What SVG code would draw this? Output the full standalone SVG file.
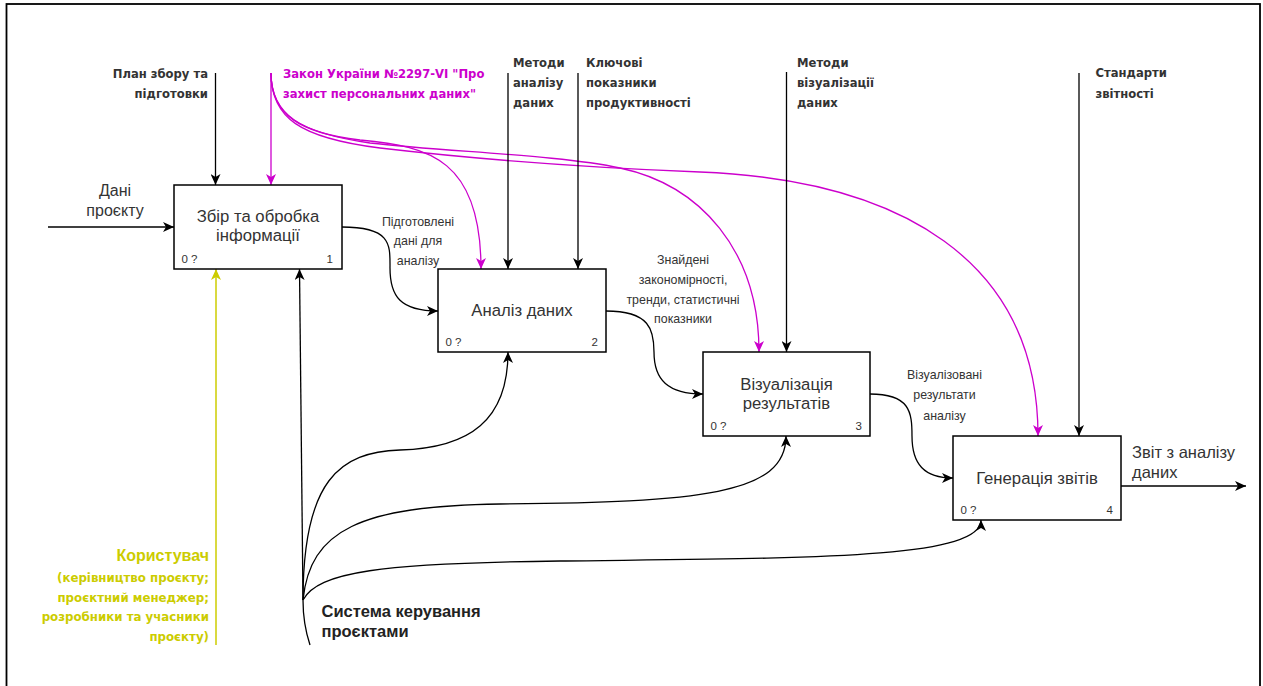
<svg xmlns="http://www.w3.org/2000/svg" width="1263" height="686" viewBox="0 0 1263 686">
<style>
.box{fill:#fff;stroke:#000;stroke-width:1.5}
.t{font-family:"Liberation Sans",Arial,sans-serif;fill:#333}
.title{font-size:16.7px;text-anchor:middle}
.small{font-size:11.5px}
.lbl{font-size:12.4px;text-anchor:middle}
.ctl{font-family:"DejaVu Sans",Verdana,sans-serif;font-weight:bold;font-size:11.6px;fill:#333}
.ys{font-size:11.8px}
.mag{fill:#CC00CC}
.yel{fill:#CCCC00}
.k{fill:none;stroke:#000;stroke-width:1.3}
.m{fill:none;stroke:#CC00CC;stroke-width:1.3}
.y{fill:none;stroke:#CCCC00;stroke-width:1.5}
</style>
<defs>
<marker id="ak" markerUnits="userSpaceOnUse" markerWidth="12" markerHeight="10" refX="11" refY="5" orient="auto"><path d="M0,0 L11,5 L0,10 L3,5 Z" fill="#000"/></marker>
<marker id="am" markerUnits="userSpaceOnUse" markerWidth="12" markerHeight="10" refX="11" refY="5" orient="auto"><path d="M0,0 L11,5 L0,10 L3,5 Z" fill="#CC00CC"/></marker>
<marker id="ay" markerUnits="userSpaceOnUse" markerWidth="12" markerHeight="10" refX="11" refY="5" orient="auto"><path d="M0,0 L11,5 L0,10 L3,5 Z" fill="#CCCC00"/></marker>
</defs>
<rect x="0" y="0" width="1263" height="686" fill="#fff"/>
<rect x="6.5" y="4" width="1253.5" height="800" fill="none" stroke="#000" stroke-width="1.8"/>

<g id="connectors">
<path class="k" d="M48,227 L174,227" marker-end="url(#ak)"/>
<path class="k" d="M215.5,73 L215.5,185" marker-end="url(#ak)"/>
<path class="m" d="M271,73 L271,185" marker-end="url(#am)"/>
<path class="m" d="M271,73 C271,115 300,133 360,140 C430,146 481,160 481,269" marker-end="url(#am)"/>
<path class="m" d="M271,73 C271,115 300,133 370,143 C450,152 560,155 620,168 C700,185 759,250 759,352" marker-end="url(#am)"/>
<path class="m" d="M271,73 C271,118 300,138 380,148 C500,162 600,168 700,172 C900,180 1038,260 1038,436" marker-end="url(#am)"/>
<path class="k" d="M508,73 L508,269" marker-end="url(#ak)"/>
<path class="k" d="M578,73 L578,269" marker-end="url(#ak)"/>
<path class="k" d="M786.5,72 L786.5,352" marker-end="url(#ak)"/>
<path class="k" d="M1079,73 L1079,436" marker-end="url(#ak)"/>
<path class="k" d="M342,227 C392,227 390,245 390,268 C390,296 400,311 438,311" marker-end="url(#ak)"/>
<path class="k" d="M606,311 C650,311 654,330 654,352 C654,380 668,394 703,394" marker-end="url(#ak)"/>
<path class="k" d="M870,394 C910,394 912,412 912,436 C912,464 924,478 953,478" marker-end="url(#ak)"/>
<path class="k" d="M1121,486 L1246,486" marker-end="url(#ak)"/>
<path class="y" d="M216,645 L216,269" marker-end="url(#ay)"/>
<path class="k" d="M310,645 C305,630 303,615 303,600"/>
<path class="k" d="M303,600 L299.5,269" marker-end="url(#ak)"/>
<path class="k" d="M303,600 C303,480 340,452 400,450 C470,448 508,420 508,352" marker-end="url(#ak)"/>
<path class="k" d="M303,600 C310,530 360,506 500,504 C700,502 786,495 786,436" marker-end="url(#ak)"/>
<path class="k" d="M303,600 C318,572 380,563 560,561 C800,558 981,560 981,520" marker-end="url(#ak)"/>
</g>

<g id="node1">
<rect class="box" x="174" y="185" width="168" height="84"/>
<text class="t title" x="258" y="222">Збір та обробка</text>
<text class="t title" x="258" y="241">інформації</text>
<text class="t small" x="181.5" y="262.5">0 ?</text>
<text class="t small" x="333" y="262.5" text-anchor="end">1</text>
</g>
<g id="node2">
<rect class="box" x="438" y="269" width="168" height="83"/>
<text class="t title" x="522" y="316">Аналіз даних</text>
<text class="t small" x="445.5" y="345.5">0 ?</text>
<text class="t small" x="598" y="345.5" text-anchor="end">2</text>
</g>
<g id="node3">
<rect class="box" x="703" y="352" width="167" height="84"/>
<text class="t title" x="786.5" y="389.5">Візуалізація</text>
<text class="t title" x="786.5" y="408.5">результатів</text>
<text class="t small" x="710.5" y="429.5">0 ?</text>
<text class="t small" x="862" y="429.5" text-anchor="end">3</text>
</g>
<g id="node4">
<rect class="box" x="953" y="436" width="168" height="84"/>
<text class="t title" x="1037" y="483.5">Генерація звітів</text>
<text class="t small" x="960.5" y="513.5">0 ?</text>
<text class="t small" x="1113" y="513.5" text-anchor="end">4</text>
</g>

<g id="labels">
<text class="t" font-size="16" text-anchor="middle" x="115" y="196">Дані</text>
<text class="t" font-size="16" text-anchor="middle" x="115" y="216">проєкту</text>
<text class="ctl" text-anchor="end" x="208" y="78">План збору та</text>
<text class="ctl" text-anchor="end" x="208" y="98">підготовки</text>
<text class="ctl mag" x="283" y="78">Закон України №2297-VI "Про</text>
<text class="ctl mag" x="283" y="98">захист персональних даних"</text>
<text class="ctl" x="513" y="67">Методи</text>
<text class="ctl" x="513" y="87">аналізу</text>
<text class="ctl" x="513" y="107">даних</text>
<text class="ctl" x="586" y="67">Ключові</text>
<text class="ctl" x="586" y="87">показники</text>
<text class="ctl" x="586" y="107">продуктивності</text>
<text class="ctl" x="797" y="67">Методи</text>
<text class="ctl" x="797" y="87">візуалізації</text>
<text class="ctl" x="797" y="107">даних</text>
<text class="ctl" x="1095.5" y="77">Стандарти</text>
<text class="ctl" x="1095.5" y="98">звітності</text>
<text class="t lbl" x="418" y="225.5">Підготовлені</text>
<text class="t lbl" x="418" y="244.5">дані для</text>
<text class="t lbl" x="418" y="264.5">аналізу</text>
<text class="t lbl" x="683" y="264">Знайдені</text>
<text class="t lbl" x="683" y="284">закономірності,</text>
<text class="t lbl" x="683" y="304">тренди, статистичні</text>
<text class="t lbl" x="683" y="323">показники</text>
<text class="t lbl" x="944.5" y="379">Візуалізовані</text>
<text class="t lbl" x="944.5" y="399">результати</text>
<text class="t lbl" x="944.5" y="419.5">аналізу</text>
<text class="t" font-size="16.5" x="1132" y="458">Звіт з аналізу</text>
<text class="t" font-size="16.5" x="1132" y="478">даних</text>
<text class="t" font-size="16.5" font-weight="bold" style="fill:#222" x="321.5" y="617">Система керування</text>
<text class="t" font-size="16.5" font-weight="bold" style="fill:#222" x="321.5" y="637">проєктами</text>
<text class="t yel" font-size="16" font-weight="bold" text-anchor="end" x="209" y="561">Користувач</text>
<text class="ctl ys yel" text-anchor="end" x="209" y="582">(керівництво проєкту;</text>
<text class="ctl ys yel" text-anchor="end" x="209" y="601.5">проєктний менеджер;</text>
<text class="ctl ys yel" text-anchor="end" x="209" y="621">розробники та учасники</text>
<text class="ctl ys yel" text-anchor="end" x="209" y="640.5">проєкту)</text>
</g>
</svg>
